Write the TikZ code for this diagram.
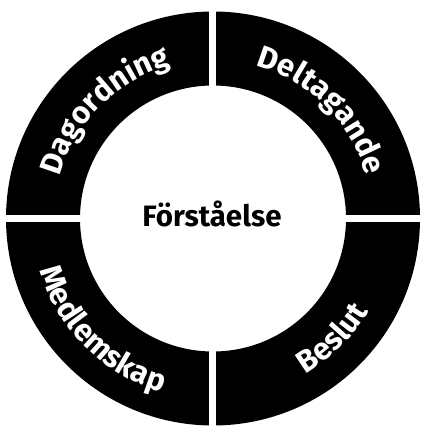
\documentclass[tikz,border=0pt]{standalone}
\usepackage{fontspec}
\setmainfont{Fira Sans}
\usetikzlibrary{decorations.text}
\newcommand{\arcfont}{\bfseries\fontsize{31}{34}\selectfont}
\newcommand{\midfont}{\bfseries\fontsize{29.5}{32}\selectfont}
\begin{document}
\begin{tikzpicture}[x=1pt,y=1pt,
  ringtext/.style={decorate, decoration={text along path, text align=center, text color=white, text={|\arcfont|#1}}}]
\useasboundingbox (0,0) rectangle (433,440);
\fill[white] (0,0) rectangle (433,440);
\coordinate (c) at (213,221.5);
\fill[black, even odd rule] (c) circle[radius=207pt] (c) circle[radius=133pt];
\fill[white] (209,0) rectangle (216,440);
\fill[white] (0,218) rectangle (433,225);
\node[font=\midfont, anchor=base] (center) at (212,213.3) {Förståelse};
\path[ringtext=Dagordning] (c) ++(180:159pt) arc[start angle=180, end angle=90, radius=159pt];
\path[ringtext=Deltagande] (c) ++(90:159pt) arc[start angle=90, end angle=0, radius=159pt];
\path[ringtext=Medlemskap] (c) ++(180:181pt) arc[start angle=180, end angle=270, radius=181pt];
\path[ringtext=Beslut] (c) ++(270:181pt) arc[start angle=270, end angle=360, radius=181pt];
\end{tikzpicture}
\end{document}
